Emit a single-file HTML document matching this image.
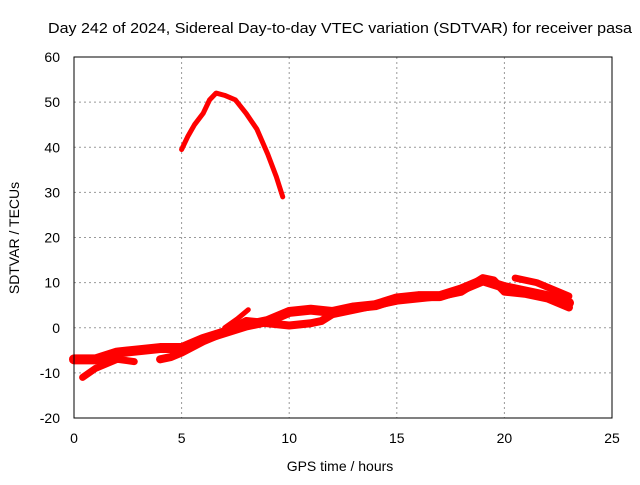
<!DOCTYPE html>
<html><head><meta charset="utf-8"><style>
body{margin:0;background:#fff}
svg text{font-family:"Liberation Sans",sans-serif;font-size:14px;fill:#000}
</style></head><body>
<svg id="chart" width="640" height="480">
<text x="48" y="33" textLength="584" lengthAdjust="spacingAndGlyphs" style="font-size:15px">Day 242 of 2024, Sidereal Day-to-day VTEC variation (SDTVAR) for receiver pasa</text>
<g id="grid"></g>
<g id="series"></g>
<rect x="74" y="57" width="538" height="361" fill="none" stroke="#000" stroke-width="1"/>
<g id="ticks"></g>
<text x="340" y="471" text-anchor="middle">GPS time / hours</text>
<text x="19" y="238" text-anchor="middle" transform="rotate(-90 19 238)">SDTVAR / TECUs</text>
</svg>
<script>
const xTicks=[0,5,10,15,20,25];
const yTicks=[-20,-10,0,10,20,30,40,50,60];
const arcX=[5,5.3,5.6,6,6.3,6.6,7,7.5,8,8.5,9,9.4,9.7];
const arcY=[39.5,42.5,45,47.5,50.5,52,51.5,50.5,47.5,44,38.5,33.5,29];
const bandAX=[0,1,2,3,4,5,6,7,8,9,10,11,12,13,14,15,16,17,18,19,20,21,22,23];
const bandAY=[-7,-7,-5.5,-5,-4.5,-4.5,-2.5,-1,0.5,1.5,3.5,4,3.5,4.5,5,6.5,7,7,8.5,10.5,9,8,7,5.5];
const bandBX=[0.4,1,1.5,2,2.8];
const bandBY=[-11,-9,-8,-7,-7.5];
const bandCX=[4,4.5,5,6,7,8,9,10,11,11.5,12,13,14,15,16,17,18,19,19.5,20,21,22,23];
const bandCY=[-7,-6.5,-5.5,-3,-1,1.5,1,0.5,1,1.5,3,4,5,6,6.5,7,8,11,10.5,8,7.5,6.5,4.5];
const branchX=[7,7.6,8.1];
const branchY=[0,2,4];
const tailX=[20.5,21.5,22.5,23];
const tailY=[11,10,8,7];
const X=h=>74+h*538/25;
const Y=v=>418-(v+20)*361/80;
const NS='http://www.w3.org/2000/svg';
const grid=document.getElementById('grid'),ticks=document.getElementById('ticks'),ser=document.getElementById('series');
function mk(tag,attrs,parent){const e=document.createElementNS(NS,tag);for(const k in attrs)e.setAttribute(k,attrs[k]);parent.appendChild(e);return e;}
xTicks.forEach(t=>{
 if(t>0&&t<25){const g=mk('line',{x1:X(t),x2:X(t),y1:57,y2:418,stroke:'#999','stroke-dasharray':'2,3'},grid);
 
 }
 const l=mk('text',{x:X(t),y:443,'text-anchor':'middle'},ticks);l.textContent=t;
 
 
});
yTicks.forEach(t=>{
 if(t>-20&&t<60){const g=mk('line',{x1:74,x2:612,y1:Y(t),y2:Y(t),stroke:'#999','stroke-dasharray':'2,3'},grid);
 
 }
 const l=mk('text',{x:60,y:Y(t)+5,'text-anchor':'end'},ticks);l.textContent=t;
 
 
});
function line(xs,ys,name,w){
 const p=mk('polyline',{points:xs.map((x,i)=>X(x)+','+Y(ys[i])).join(' '),fill:'none',stroke:'#f00','stroke-width':w,'stroke-linejoin':'round','stroke-linecap':'round'},ser);
 
 
}
line(arcX,arcY,'series-arc',5);
line(bandAX,bandAY,'series-band-a',10);
line(bandBX,bandBY,'series-band-b',7);
line(bandCX,bandCY,'series-band-c',8);
line(branchX,branchY,'series-branch',5);
line(tailX,tailY,'series-tail',7);
</script>
</body></html>
